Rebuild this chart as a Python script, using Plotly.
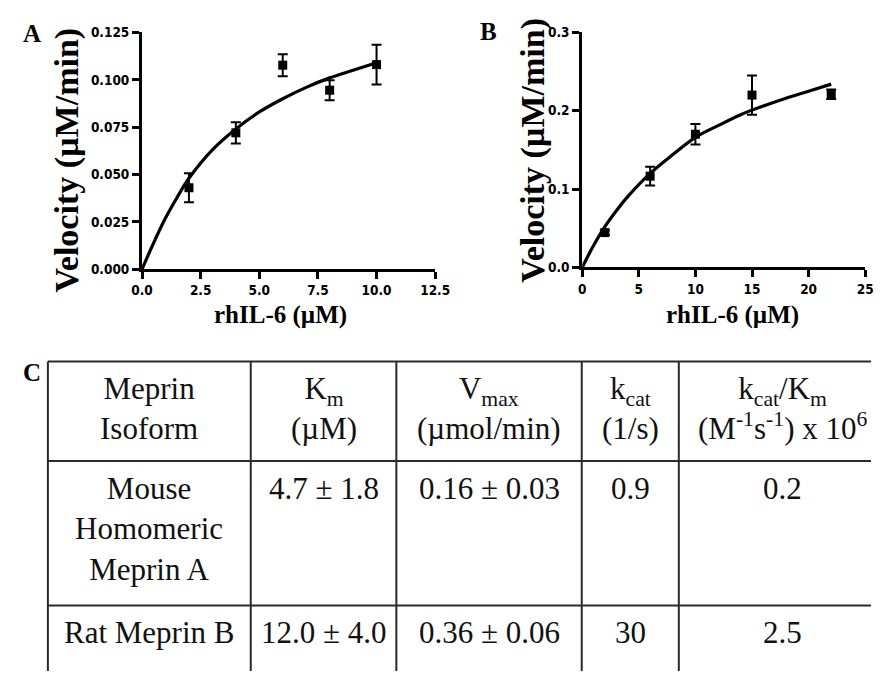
import plotly.graph_objects as go

W, H = 886, 679

# ---------------- data ----------------
# Panel A (Mouse homomeric meprin A)
a_x = [2, 4, 6, 8, 10]
a_y = [0.043, 0.072, 0.1077, 0.0945, 0.108]
a_err = [0.0077, 0.0056, 0.0058, 0.0053, 0.0105]
a_fit_x = [0, 0.5, 1, 1.5, 2, 3, 4, 5, 6, 7, 8, 9, 10]
a_fit_y = [0, 0.014, 0.027, 0.038, 0.048, 0.063, 0.074, 0.083, 0.090, 0.096, 0.101, 0.105, 0.109]
a_xticks = [0, 2.5, 5.0, 7.5, 10.0, 12.5]
a_yticks = [0, 0.025, 0.05, 0.075, 0.1, 0.125]

# Panel B (Rat meprin B)
b_x = [2, 6, 10, 15, 22]
b_y = [0.0445, 0.1165, 0.170, 0.220, 0.221]
b_err = [0.003, 0.012, 0.013, 0.025, 0.006]
b_fit_x = [0, 1, 2, 3, 4, 6, 8, 10, 12, 14, 16, 18, 20, 22]
b_fit_y = [0, 0.028, 0.052, 0.072, 0.090, 0.120, 0.144, 0.166, 0.181, 0.195, 0.206, 0.216, 0.225, 0.234]
b_xticks = [0, 5, 10, 15, 20, 25]
b_yticks = [0, 0.1, 0.2, 0.3]

# Panel C table
header = ["Meprin<br>Isoform", "K<sub>m</sub><br>(µM)", "V<sub>max</sub><br>(µmol/min)",
          "k<sub>cat</sub><br>(1/s)", "k<sub>cat</sub>/K<sub>m</sub><br>(M<sup>-1</sup>s<sup>-1</sup>) x 10<sup>6</sup>"]
isoforms = ["Mouse<br>Homomeric<br>Meprin A", "Rat Meprin B"]
km_vals = ["4.7 ± 1.8", "12.0 ± 4.0"]
vmax_vals = ["0.16 ± 0.03", "0.36 ± 0.06"]
kcat_vals = ["0.9", "30"]
kcatkm_vals = ["0.2", "2.5"]

x_title = "rhIL-6 (µM)"
y_title = "Velocity (µM/min)"

# ---------------- helpers ----------------
def px(x):
    return x / W

def py(y):
    return 1 - y / H

tick_font = dict(family="DejaVu Sans Condensed", size=13.5, color="black", weight="bold")
serif = "Liberation Serif"

fig = go.Figure()

for (xs, ys, es, fx, fy, xa, ya) in [
    (a_x, a_y, a_err, a_fit_x, a_fit_y, "x", "y"),
    (b_x, b_y, b_err, b_fit_x, b_fit_y, "x2", "y2"),
]:
    fig.add_trace(go.Scatter(x=fx, y=fy, mode="lines", line=dict(color="black", width=3.2, shape="spline"),
                             xaxis=xa, yaxis=ya, showlegend=False, hoverinfo="skip"))
    fig.add_trace(go.Scatter(x=xs, y=ys, mode="markers",
                             marker=dict(symbol="square", size=9, color="black"),
                             error_y=dict(type="data", array=es, visible=True, color="black",
                                          thickness=2, width=5),
                             xaxis=xa, yaxis=ya, showlegend=False, cliponaxis=False))

axis_common = dict(showline=True, linecolor="black", linewidth=3, ticks="outside", ticklen=7,
                   tickwidth=3, tickcolor="black", showgrid=False, zeroline=False,
                   tickfont=tick_font, mirror=False, fixedrange=True)

fig.update_layout(
    width=W, height=H, margin=dict(l=0, r=0, t=0, b=0),
    paper_bgcolor="white", plot_bgcolor="white", showlegend=False,
    xaxis=dict(domain=[px(135), px(437)], range=[0, 12.5], tickvals=a_xticks,
               ticktext=[f"{v:.1f}" for v in a_xticks], anchor="y", **axis_common),
    yaxis=dict(domain=[py(267.5), py(25)], range=[0, 0.125], tickvals=a_yticks,
               ticktext=[f"{v:.3f}" for v in a_yticks], anchor="x", **axis_common),
    xaxis2=dict(domain=[px(588.5), px(880)], range=[0, 25], tickvals=b_xticks,
                ticktext=[f"{v:d}" for v in b_xticks], anchor="y2", **axis_common),
    yaxis2=dict(domain=[py(265.7), py(25)], range=[0, 0.3], tickvals=b_yticks,
                ticktext=[f"{v:.1f}" for v in b_yticks], anchor="x2", **axis_common),
)

ann = []
# axis titles
for cx, cy in [(58, 156), (537, 146)]:
    ann.append(dict(x=px(cx), y=py(cy), xref="paper", yref="paper", text=y_title, textangle=-90,
                    showarrow=False, xanchor="center", yanchor="middle",
                    font=dict(family=serif, size=34, color="black", weight="bold")))
for cx, cy in [(278, 314), (743, 314)]:
    ann.append(dict(x=px(cx), y=py(cy), xref="paper", yref="paper", text=x_title,
                    showarrow=False, xanchor="center", yanchor="middle",
                    font=dict(family=serif, size=25, color="black", weight="bold")))
# panel letters
for letter, cx, cy in [("A", 22, 26), ("B", 492, 24), ("C", 22, 373)]:
    ann.append(dict(x=px(cx), y=py(cy), xref="paper", yref="paper", text=letter,
                    showarrow=False, xanchor="center", yanchor="middle",
                    font=dict(family=serif, size=25, color="black", weight="bold")))

# table geometry (pixels)
t_left, t_top = 38, 362
col_lines = [247, 397, 588, 688]
col_centers = [142.5, 322, 492.5, 638, 795]
row_tops = [362, 464, 612]
line_col = "#2a2a2a"

shapes = []
shapes.append(dict(type="line", xref="paper", yref="paper", x0=px(t_left), x1=1, y0=py(t_top), y1=py(t_top),
                   line=dict(color=line_col, width=2)))
for rt in row_tops[1:]:
    shapes.append(dict(type="line", xref="paper", yref="paper", x0=px(t_left), x1=1, y0=py(rt), y1=py(rt),
                       line=dict(color=line_col, width=2)))
for cx in [t_left] + col_lines:
    shapes.append(dict(type="line", xref="paper", yref="paper", x0=px(cx), x1=px(cx), y0=py(t_top), y1=0,
                       line=dict(color=line_col, width=2)))

tfont = dict(family=serif, size=31, color="#111111", weight="normal")
rows = [header,
        [isoforms[0], km_vals[0], vmax_vals[0], kcat_vals[0], kcatkm_vals[0]],
        [isoforms[1], km_vals[1], vmax_vals[1], kcat_vals[1], kcatkm_vals[1]]]
for r, row in enumerate(rows):
    for c, txt in enumerate(row):
        ann.append(dict(x=px(col_centers[c]), y=py(row_tops[r] + 8), xref="paper", yref="paper",
                        text=txt, showarrow=False, xanchor="center", yanchor="top",
                        align="center", font=tfont))

fig.update_layout(annotations=ann, shapes=shapes)

fig.write_html("out.html")
